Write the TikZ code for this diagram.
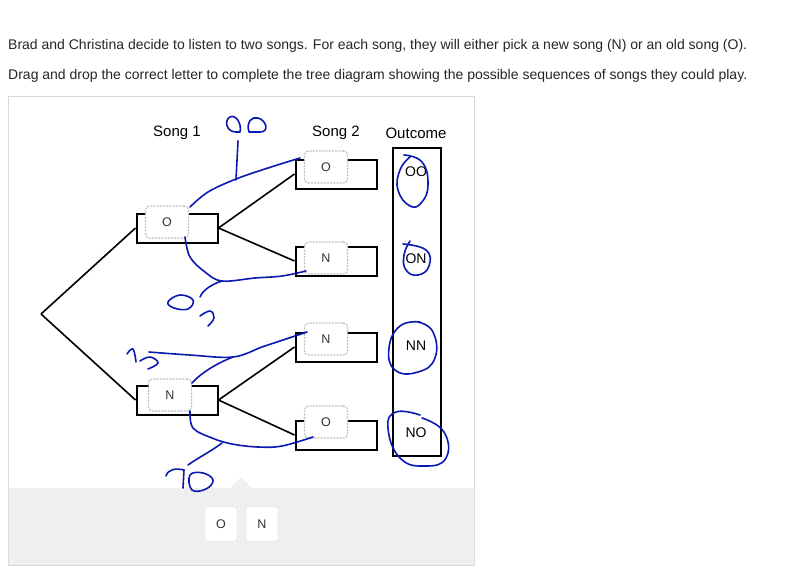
\documentclass[tikz,border=0pt]{standalone}
\usepackage{fontspec}
\setmainfont{Liberation Sans}
\usepackage{tikz}
\usetikzlibrary{shapes,backgrounds,positioning}
\usepackage{xcolor}
\definecolor{pen}{RGB}{12,24,178}
\definecolor{panelgray}{RGB}{239,239,239}

\begin{document}
\begin{tikzpicture}[x=1pt,y=-1pt,
    slotbox/.style={draw=black,line width=2pt,fill=white,minimum width=81pt,minimum height=29pt,inner sep=0pt},
    tile/.style={draw=gray!50,line width=1.2pt,dash pattern=on 2pt off 1.2pt,fill=white,rounded corners=4pt,minimum width=43pt,minimum height=32pt,inner sep=0pt,font=\fontsize{12.5}{14}\selectfont,text=black!80},
    card/.style={draw=gray!35,fill=white,rounded corners=2pt,minimum width=32pt,minimum height=34pt,inner sep=0pt,font=\fontsize{12.5}{14}\selectfont,text=black!80},
    branch/.style={line width=1.6pt},
    ink/.style={pen,line width=1.6pt,line cap=round,line join=round},
    head/.style={font=\fontsize{15}{17}\selectfont},
    result/.style={font=\fontsize{14}{16}\selectfont}]
            \useasboundingbox (0,0) rectangle (798,574);
            \fill[white] (0,0) rectangle (798,574);

            \def\fstX{177}
            \def\sndX{336}
            \def\rootY{314}

            % question text
            \node[anchor=base west,inner sep=0pt,font=\fontsize{14}{16}\selectfont,text=black!85] (qa) at (8,49)
                {Brad and Christina decide to listen to two songs. For each song, they will either pick a new song (N) or an old song (O).};
            \node[anchor=base west,inner sep=0pt,font=\fontsize{14}{16}\selectfont,text=black!85] (qb) at (8,79)
                {Drag and drop the correct letter to complete the tree diagram showing the possible sequences of songs they could play.};

            % panel
            \fill[panelgray] (9,488) -- (230,488) -- (241,477) -- (252,488) -- (474,488) -- (474,565) -- (9,565) -- cycle;
            \draw[gray!30] (8,96) rectangle (474,565);

            % headers
            \node[head] (h1) at (\fstX,133) {Song 1};
            \node[head] (h2) at (\sndX,133) {Song 2};
            \node[head] (h3) at (416,133) {Outcome};

            % tree
            \coordinate (root) at (41,\rootY);
            \node[slotbox] (o1) at (\fstX,228) {};
            \node[slotbox] (n1) at (\fstX,400) {};
            \node[slotbox] (oo) at (\sndX,174) {};
            \node[slotbox] (on) at (\sndX,261) {};
            \node[slotbox] (nn) at (\sndX,347) {};
            \node[slotbox] (no) at (\sndX,435) {};

            \draw[branch] (root) -- (o1.west);
            \draw[branch] (root) -- (n1.west);
            \draw[branch] (o1.east) -- (oo.west);
            \draw[branch] (o1.east) -- (on.west);
            \draw[branch] (n1.east) -- (nn.west);
            \draw[branch] (n1.east) -- (no.west);

            \node[tile] (t1) at (167,222) {O};
            \node[tile] (t2) at (170,395) {N};
            \node[tile] (t3) at (326,167) {O};
            \node[tile] (t4) at (326,258) {N};
            \node[tile] (t5) at (326,339) {N};
            \node[tile] (t6) at (326,422) {O};

            % outcome column
            \draw[line width=2pt] (393,148) rectangle (441,456);
            \node[result] (r1) at (416,172) {OO};
            \node[result] (r2) at (416,259) {ON};
            \node[result] (r3) at (416,346) {NN};
            \node[result] (r4) at (416,433) {NO};

            % letters to drag
            \node[card] (co) at (221,524) {O};
            \node[card] (cn) at (262,524) {N};

            % handwriting
            \draw[ink] (236,132) .. controls (226,132) and (224,120) .. (230,117) .. controls (236,114) and (242,124) .. (240,132) -- cycle;
            \draw[ink] (249,132) .. controls (246,122) and (252,116) .. (258,118) .. controls (266,120) and (270,132) .. (260,132) -- cycle;
            \draw[ink] (238,141) -- (236,180);
            \draw[ink] plot[smooth,tension=0.6] coordinates {(190,207) (208,192) (236,179) (268,168) (300,158)};
            \draw[ink] plot[smooth,tension=0.6] coordinates {(185,237) (190,257) (205,272) (222,281) (255,278) (282,276) (306,271)};
            \draw[ink] (222,281) .. controls (212,284) and (203,290) .. (200,297);
            \draw[ink] plot[smooth cycle,tension=0.7] coordinates {(168,302) (180,295) (193,300) (188,309) (174,308)};
            \draw[ink] plot[smooth,tension=0.7] coordinates {(200,316) (210,311) (214,318) (208,326)};
            \draw[ink] plot[smooth,tension=0.7] coordinates {(127,354) (133,349) (136,362)};
            \draw[ink] plot[smooth,tension=0.7] coordinates {(140,361) (150,357) (158,363) (148,369)};
            \draw[ink] plot[smooth,tension=0.6] coordinates {(149,352) (190,355) (233,357) (262,347) (283,340) (307,332)};
            \draw[ink] (233,357) .. controls (215,364) and (200,374) .. (192,383);
            \draw[ink] plot[smooth,tension=0.6] coordinates {(190,411) (193,428) (212,438) (232,444) (258,447) (282,446) (313,437)};
            \draw[ink] (222,443) .. controls (210,452) and (196,459) .. (188,465);
            \draw[ink] (166,476) .. controls (168,469) and (176,468) .. (184,470);
            \draw[ink] (184,470) -- (183,488);
            \draw[ink] plot[smooth cycle,tension=0.7] coordinates {(190,475) (203,473) (213,480) (206,489) (192,490)};
            \draw[ink] plot[smooth,tension=0.8] coordinates {(410,157) (400,170) (398,190) (410,206) (422,202) (428,184) (422,162) (404,155)};
            \draw[ink] plot[smooth,tension=0.8] coordinates {(410,241) (404,255) (406,270) (418,275) (429,266) (426,250) (403,244)};
            \draw[ink] plot[smooth,tension=0.8] coordinates {(420,322) (400,326) (389,348) (395,370) (418,372) (435,358) (433,332) (418,322)};
            \draw[ink] plot[smooth,tension=0.8] coordinates {(420,415) (396,412) (388,428) (400,458) (425,466) (446,458) (444,432) (422,418)};
        \end{tikzpicture}
\end{document}
